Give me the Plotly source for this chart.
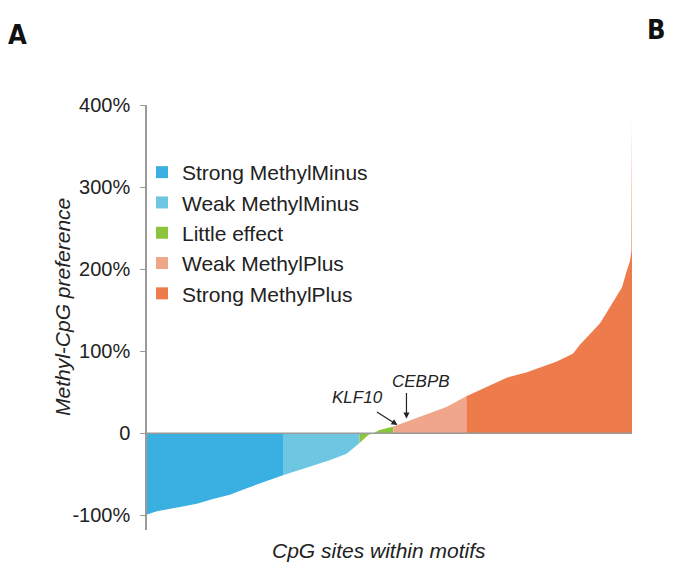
import plotly.graph_objects as go

# ---- data (site rank along x, methyl-CpG preference in % along y) ----
categories = ["Strong MethylMinus", "Weak MethylMinus", "Little effect",
              "Weak MethylPlus", "Strong MethylPlus"]
colors = ["#3AB0E2", "#6DC7E2", "#8CC43E", "#EFA68B", "#EE7B4B"]

strong_minus_rank = [0, 10, 33, 50, 67, 83, 100, 117, 137]
strong_minus_val = [-99, -95, -90, -86, -80, -75, -67, -60, -51]

weak_minus_rank = [137, 150, 167, 183, 200, 213]
weak_minus_val = [-51, -46, -40, -33, -25, -12]

little_rank = [213, 222, 227, 233, 247]
little_val = [-12, -2, 0, 4, 8]

weak_plus_rank = [247, 260, 283, 300, 320]
weak_plus_val = [8, 14, 24, 32, 45]

strong_plus_rank = [320, 340, 361, 380, 394, 410, 420, 427, 434, 440, 447, 454,
                    460, 466, 470, 476, 481, 484, 485.4, 485.6, 486]
strong_plus_val = [45, 56, 68, 74, 80, 87, 93, 97, 108, 116, 125, 134,
                   146, 158, 166, 178, 199, 210, 222, 385, 385]

series = [
    (strong_minus_rank, strong_minus_val),
    (weak_minus_rank, weak_minus_val),
    (little_rank, little_val),
    (weak_plus_rank, weak_plus_val),
    (strong_plus_rank, strong_plus_val),
]

ytick_vals = [-100, 0, 100, 200, 300, 400]
ytick_text = ["-100%", "0", "100%", "200%", "300%", "400%"]

labelled_sites = [("KLF10", 251, 10), ("CEBPB", 260, 18)]

FONT = "Liberation Sans, Arial, Helvetica, sans-serif"
NARROW = "Liberation Sans Narrow, DejaVu Sans Condensed, sans-serif"

# page body has an 8px margin; layout is planned in window pixels
OFF = 8
W, H = 673 - OFF, 569 - OFF
L, R, T, B = 147 - OFF, 41, 105 - OFF, 39
pw, ph = W - L - R, H - T - B


def px(x):
    return (x - OFF - L) / pw


def py(y):
    return (H - B - (y - OFF)) / ph


fig = go.Figure()
for name, col, (xr, yv) in zip(categories, colors, series):
    fig.add_trace(go.Scatter(
        x=xr, y=yv, mode="lines", line=dict(width=0, color=col),
        fill="tozeroy", fillcolor=col, name=name, legendgroup=name,
        showlegend=False, hoverinfo="x+y"))
for name, col in zip(categories, colors):
    fig.add_trace(go.Bar(x=[None], y=[None], name=name, legendgroup=name,
                         marker=dict(color=col, line=dict(width=0))))

# zero baseline
fig.add_shape(type="line", xref="paper", x0=0, x1=1, yref="y", y0=0, y1=0,
              line=dict(color="#9a9a9a", width=1.5), layer="above")

# gene labels with arrows
(k_name, k_x, k_y), (c_name, c_x, c_y) = labelled_sites
fig.add_annotation(x=k_x, y=k_y, xref="x", yref="y", text="", showarrow=True,
                   ax=-22, ay=-14, arrowhead=2, arrowsize=1, arrowwidth=1.2,
                   arrowcolor="#222")
fig.add_annotation(x=k_x, y=k_y, xref="x", yref="y", text="<i>" + k_name + "</i>",
                   showarrow=False, xshift=-40, yshift=27,
                   xanchor="center", yanchor="middle",
                   font=dict(family=FONT, size=17, color="#222"))
fig.add_annotation(x=c_x, y=c_y, xref="x", yref="y", text="", showarrow=True,
                   ax=0, ay=-27, arrowhead=2, arrowsize=1, arrowwidth=1.2,
                   arrowcolor="#222")
fig.add_annotation(x=c_x, y=c_y, xref="x", yref="y", text="<i>" + c_name + "</i>",
                   showarrow=False, xshift=15, yshift=37,
                   xanchor="center", yanchor="middle",
                   font=dict(family=FONT, size=17, color="#222"))

# axis titles
fig.add_annotation(x=px(62), y=py(307), xref="paper", yref="paper",
                   xanchor="center", yanchor="middle",
                   text="<i>Methyl-CpG preference</i>", showarrow=False,
                   textangle=-90, font=dict(family=FONT, size=21, color="#222"))
fig.add_annotation(text="<i>CpG sites within motifs</i>", showarrow=False,
                   xref="paper", yref="paper", x=px(379), y=py(550),
                   xanchor="center", yanchor="middle",
                   font=dict(family=FONT, size=21, color="#222"))

# panel letters
fig.add_annotation(text="<b>A</b>", showarrow=False, xref="paper", yref="paper",
                   x=px(17.5), y=py(34), xanchor="center", yanchor="middle",
                   borderpad=0,
                   font=dict(family=NARROW, size=27, color="#111"))
fig.add_annotation(text="<b>B</b>", showarrow=False, xref="paper", yref="paper",
                   x=px(656), y=py(30), xanchor="center", yanchor="middle",
                   borderpad=0,
                   font=dict(family=NARROW, size=27, color="#111"))

fig.update_layout(
    width=W, height=H,
    margin=dict(l=L, r=R, t=T, b=B, autoexpand=False),
    paper_bgcolor="white", plot_bgcolor="white",
    font=dict(family=FONT, size=20, color="#222"),
    barmode="overlay",
    legend=dict(x=px(142), y=py(152), xanchor="left", yanchor="top",
                bgcolor="rgba(0,0,0,0)", font=dict(family=FONT, size=21, color="#222"),
                itemclick=False, itemdoubleclick=False, tracegroupgap=0),
    xaxis=dict(range=[0, 486], showticklabels=False, ticks="", showline=False,
               showgrid=False, zeroline=False, fixedrange=True),
    yaxis=dict(range=[-118, 400], tickvals=ytick_vals, ticktext=ytick_text,
               showline=True, linecolor="#9a9a9a", linewidth=1.5, ticks="outside",
               ticklen=5, tickcolor="#9a9a9a", tickwidth=1, showgrid=False,
               zeroline=False, ticklabelstandoff=6,
               tickfont=dict(family=FONT, size=20, color="#222")),
)

fig.write_html("out.html")
